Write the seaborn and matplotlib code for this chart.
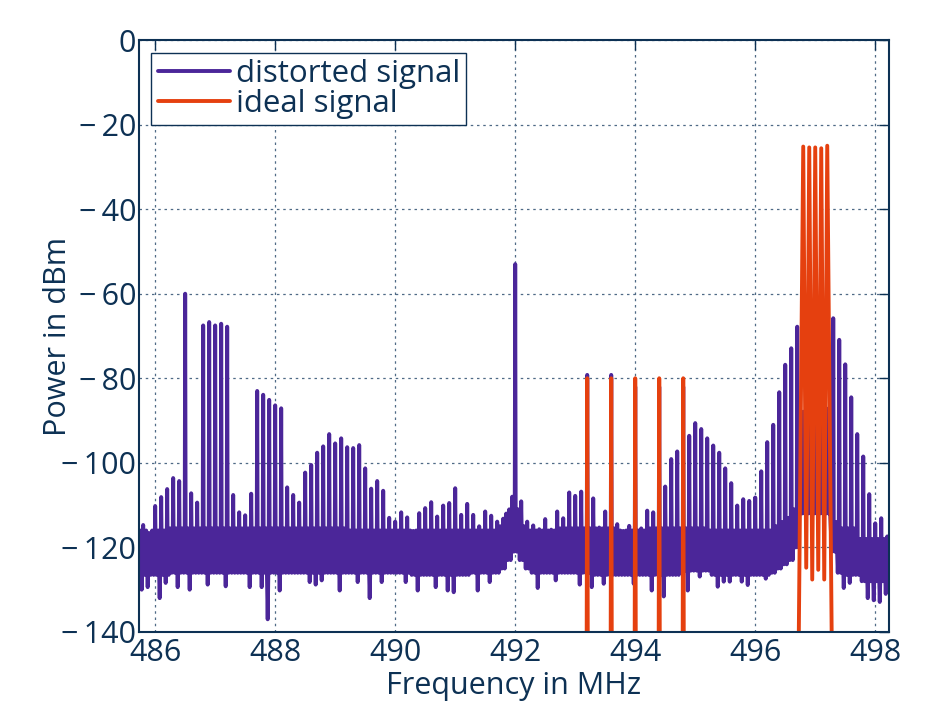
#%% modules
import numpy as np
import pandas as pd
import seaborn as sns
import matplotlib.pyplot as plt
from matplotlib.ticker import FuncFormatter

#%% distorted signal: one tone every 100 kHz, peak levels
tone_freq = np.round(np.arange(485.8, 498.25, 0.1), 1)
tone_db = [
    -114.7, -116.6, -110.2, -108.1, -106.2, -103.6, -104.3, -60.0, -107.2, -109.4,
    -67.5, -66.7, -67.5, -67.1, -67.8, -107.6, -111.7, -112.4, -107.3, -83.0,
    -83.9, -85.1, -86.4, -87.1, -105.8, -107.6, -109.4, -102.3, -100.5, -97.6,
    -96.1, -93.2, -95.4, -94.2, -96.3, -96.5, -95.8, -101.3, -106.1, -104.3,
    -106.6, -113.0, -113.9, -111.7, -112.9, -116.1, -111.9, -110.7, -109.3, -112.7,
    -110.1, -109.5, -106.0, -112.3, -109.7, -112.3, -115.0, -111.5, -112.5, -113.9,
    -113.2, -111.0, -53.0, -109.1, -113.9, -114.8, -115.7, -113.3, -115.8, -111.5,
    -113.1, -107.0, -107.8, -106.8, -79.2, -108.4, -115.3, -111.5, -79.2, -114.5,
    -116.1, -114.9, -82.0, -115.5, -111.3, -111.7, -82.0, -105.6, -99.1, -97.3,
    -82.0, -93.6, -90.6, -92.0, -94.2, -95.9, -97.6, -101.3, -104.8, -110.1,
    -108.6, -109.0, -108.2, -102.0, -95.1, -91.0, -83.3, -76.8, -72.9, -67.8,
    -87.9, -89.0, -88.0, -88.3, -87.2, -65.8, -70.9, -76.7, -84.5, -93.2,
    -98.5, -107.4, -114.3, -113.1, -117.4,
]

# noise floor, one value per 0.5 MHz block of 5 tones:
# small in-between spikes, upper edge of the solid band, lower edge of the band
floor_half = [-116, -115.5, -115.5, -115.5, -115.5, -115.5, -115.5, -116, -116, -116,
              -116, -116, -116, -116, -115.5, -115.5, -116, -115.5, -115.5, -116,
              -116, -116, -116, -115.5, -118]
floor_top = [-120, -119.5, -119.5, -119.5, -119.5, -119.5, -119.5, -120, -120, -120,
             -120, -120, -120, -120, -119.5, -119.5, -120, -119.5, -119.5, -120,
             -120, -120, -120, -119.5, -122]
floor_bottom = [-126.5, -126, -126, -126, -126, -126, -126, -126, -126, -126.5,
                -126.5, -126, -126, -126, -126, -126.5, -126.5, -126.5, -125.5, -126.5,
                -126.5, -126, -126, -126.5, -128]

# raised floor around the 492 MHz spur and under the wanted carriers
raised_freq = [491.8, 491.9, 492.0, 492.1, 492.2,
               496.4, 496.5, 496.6, 496.7, 496.8, 496.9, 497.0, 497.1, 497.2, 497.3, 497.4]
raised_half = [-115, -112, -108, -111, -115,
               -115, -114, -113, -111, -92, -92, -92, -92, -92, -112, -114]
raised_top = [-119, -116, -113, -116, -119,
              -118, -117, -116, -114, -100, -100, -100, -100, -100, -115, -118]
raised_bottom = [-125, -123, -121, -123, -125,
                 -125, -124, -123, -120, -112, -112, -112, -112, -112, -121, -126]

# deeper dips of the noise floor
dip_freq = [485.8, 485.9, 486.1, 486.2, 486.4, 486.6, 486.9, 487.2, 487.6, 487.8,
            487.9, 488.1, 488.6, 488.7, 488.8, 489.1, 489.4, 489.6, 489.8, 490.2,
            490.4, 490.7, 490.9, 491.0, 491.4, 491.6, 492.4, 492.7, 493.1, 493.3,
            493.5, 494.0, 494.3, 494.5, 494.9, 495.1, 495.4, 495.5, 495.6, 495.8,
            495.9, 496.2, 497.5, 497.6, 497.9, 498.0, 498.1, 498.2]
dip_db = [-130, -129.4, -132, -128.4, -129.4, -130, -128.8, -129.2, -129.4, -129.4,
          -137, -130.2, -128.2, -128.8, -127.8, -130.2, -128.2, -132, -128.2, -128.2,
          -130.2, -129.4, -130.2, -130.6, -130.2, -128.2, -129.6, -127.8, -128.8, -129.4,
          -128.6, -128.6, -130.2, -131.6, -130.2, -126.9, -129.3, -128.1, -128.1, -128.1,
          -128.9, -127.4, -129.6, -128.4, -132, -132.5, -132.9, -131]

#%% ideal signal trace
ideal_freq = [485.7, 493.19, 493.2, 493.21, 493.59, 493.6, 493.61, 493.99, 494.0, 494.01,
              494.39, 494.4, 494.41, 494.79, 494.8, 494.81,
              496.72, 496.8, 496.85, 496.9, 496.95, 497.0, 497.05, 497.1, 497.15, 497.2,
              497.28, 498.3]
ideal_db = [-150, -150, -80, -150, -150, -80, -150, -150, -80, -150,
            -150, -80, -150, -150, -80, -150,
            -150, -25.2, -124.8, -25.4, -127.6, -25.4, -125.3, -25.6, -127.6, -25.0,
            -150, -150]

#%% build the distorted trace
half = np.repeat(floor_half, 5).astype(float)
top = np.repeat(floor_top, 5).astype(float)
bottom = np.repeat(floor_bottom, 5).astype(float)
for f, h, t, b in zip(raised_freq, raised_half, raised_top, raised_bottom):
    k = int(np.argmin(np.abs(tone_freq - f)))
    half[k], top[k], bottom[k] = h, t, b

dips = dict(zip(dip_freq, dip_db))
offsets = [-0.05, -0.025, -0.008, 0.0, 0.008, 0.025]

rows = []
for k, f in enumerate(tone_freq):
    low = dips.get(float(f), bottom[k])
    for off, val in zip(offsets, [half[k], low, top[k], tone_db[k], top[k], bottom[k]]):
        rows.append((f + off, val))
rows.append((tone_freq[-1] + 0.05, half[-1]))
df_dist = pd.DataFrame(rows, columns=["freq", "power"])
df_ideal = pd.DataFrame({"freq": ideal_freq, "power": ideal_db})

#%% plot
navy = "#0d3154"
purple = "#4b2699"
orange = "#e5400f"

sns.set_style("white")
plt.rcParams["font.family"] = ["Open Sans", "DejaVu Sans"]

fig = plt.figure(figsize=(9.39, 7.12), dpi=100)
ax = fig.add_axes([0.148, 0.1124, 0.7988, 0.8314])

sns.lineplot(data=df_dist, x="freq", y="power", sort=False, estimator=None,
             color=purple, lw=2.8, label="distorted signal", ax=ax)
sns.lineplot(data=df_ideal, x="freq", y="power", sort=False, estimator=None,
             color=orange, lw=2.8, label="ideal signal", ax=ax)

ax.set_xlim(485.73, 498.23)
ax.set_ylim(-140, 0)
ax.set_xticks(np.arange(486, 499, 2))
ax.set_yticks(np.arange(-140, 1, 20))
ax.yaxis.set_major_formatter(FuncFormatter(
    lambda v, p: "0" if v == 0 else "\u2212\u2009%d" % abs(v)))
ax.grid(True, linestyle=(0, (2, 3)), color="#4f6a86", lw=0.9)
ax.set_axisbelow(True)

ax.set_xlabel("Frequency in MHz", fontsize=22, color=navy)
ax.set_ylabel("Power in dBm", fontsize=22, color=navy)
ax.xaxis.set_label_coords(0.5, -0.066)
ax.yaxis.set_label_coords(-0.088, 0.5)
ax.tick_params(direction="in", length=7, width=1, top=True, right=True,
               color=navy, labelcolor=navy, labelsize=22)
ax.tick_params(axis="x", pad=4)
ax.tick_params(axis="y", pad=2)
for sp in ax.spines.values():
    sp.set_color(navy)
    sp.set_linewidth(1.5)

leg = ax.legend(loc="upper left", frameon=True, fancybox=False, fontsize=22.5,
                edgecolor=navy, labelcolor=navy, handlelength=2.3,
                borderpad=0.2, labelspacing=0.0, handletextpad=0.2,
                borderaxespad=0.4)
leg.get_frame().set_linewidth(1.0)
leg.get_frame().set_alpha(1)

fig.savefig("out.png", dpi=100)
